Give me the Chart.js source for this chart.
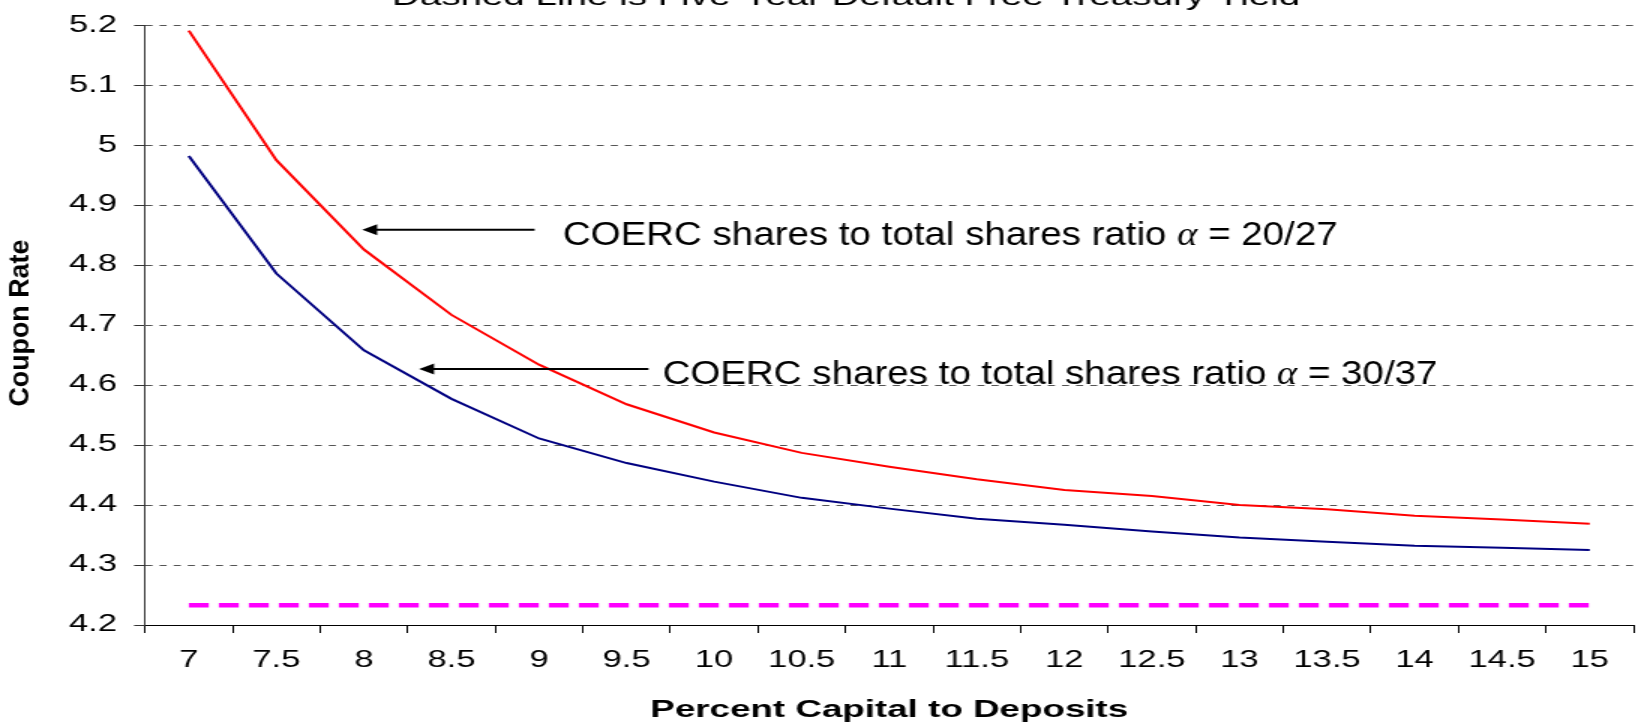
<!DOCTYPE html>
<html>
<head>
<meta charset="utf-8">
<script src="https://cdn.jsdelivr.net/npm/chart.js@4.4.0/dist/chart.umd.min.js"></script>
<style>
html, body { margin: 0; padding: 0; background: #fff; overflow: hidden; }
</style>
</head>
<body>
<canvas id="c" width="1092" height="726" style="display:block;width:1638px;height:726px;"></canvas>
<script>
// ---- data ----
const categories = ['7', '7.5', '8', '8.5', '9', '9.5', '10', '10.5', '11', '11.5', '12', '12.5', '13', '13.5', '14', '14.5', '15'];
const alpha2027 = [5.191, 4.975, 4.826, 4.717, 4.634, 4.568, 4.521, 4.487, 4.464, 4.443, 4.425, 4.415, 4.400, 4.393, 4.382, 4.376, 4.369];
const alpha3037 = [4.982, 4.786, 4.658, 4.577, 4.511, 4.470, 4.439, 4.412, 4.394, 4.377, 4.367, 4.356, 4.346, 4.339, 4.332, 4.329, 4.325];
const treasuryYield = [4.233, 4.233, 4.233, 4.233, 4.233, 4.233, 4.233, 4.233, 4.233, 4.233, 4.233, 4.233, 4.233, 4.233, 4.233, 4.233, 4.233];
const yTickValues = [4.2, 4.3, 4.4, 4.5, 4.6, 4.7, 4.8, 4.9, 5.0, 5.1, 5.2];
const chartTitle = 'Dashed Line is Five-Year Default Free Treasury Yield';
const xAxisTitle = 'Percent Capital to Deposits';
const yAxisTitle = 'Coupon Rate';
const annotationPrefix = 'COERC shares to total shares ratio ';
const annotationSymbol = '\u03B1';
const annotationRatios = ['20/27', '30/37'];

// ---- layout (not data) ----
const STRETCH = 1.5; // canvas is drawn at 1092 wide and shown at 1638 wide
const FONT = '"Liberation Sans", Arial, sans-serif';
const annotationPlacement = [
  { tipX: 1.98, tailX: 3.95, textX: 4.27, y: 4.859 },
  { tipX: 2.63, tailX: 5.25, textX: 5.41, y: 4.627 }
];

const overlay = {
  id: 'overlay',
  afterDraw(chart) {
    const ctx = chart.ctx;
    const xs = chart.scales.x, ys = chart.scales.y;
    ctx.save();
    ctx.fillStyle = '#000';
    ctx.strokeStyle = '#000';

    // chart title (partly cut off at top)
    ctx.save();
    ctx.font = '25.5px ' + FONT;
    ctx.textAlign = 'center';
    ctx.textBaseline = 'alphabetic';
    const tw = ctx.measureText(chartTitle).width;
    ctx.translate(846 / STRETCH, 5);
    ctx.scale((908 / STRETCH) / tw, 1);
    ctx.fillText(chartTitle, 0, 0);
    ctx.restore();

    // y axis title
    ctx.save();
    ctx.font = 'bold 24px ' + FONT;
    ctx.textAlign = 'center';
    ctx.textBaseline = 'middle';
    const yw = ctx.measureText(yAxisTitle).width;
    ctx.translate(21 / STRETCH, (ys.top + ys.bottom) / 2 - 2);
    ctx.rotate(-Math.PI / 2);
    ctx.scale(167 / yw, 1.15 / STRETCH);
    ctx.fillText(yAxisTitle, 0, 0);
    ctx.restore();

    // annotations
    const fMain = '33px ' + FONT;
    const fSym = 'italic 33px "Liberation Serif", serif';
    const partsFor = k => [[annotationPrefix, fMain], [annotationSymbol, fSym], [' = ' + annotationRatios[k], fMain]];
    const widthOf = parts => parts.reduce((s, [t, f]) => { ctx.font = f; return s + ctx.measureText(t).width; }, 0);
    const sx = (775 / STRETCH) / widthOf(partsFor(0));
    annotationPlacement.forEach((a, k) => {
      const yPix = ys.getPixelForValue(a.y);
      const tip = xs.getPixelForValue(a.tipX);
      const tail = xs.getPixelForValue(a.tailX);
      const tx = xs.getPixelForValue(a.textX);
      const headLen = 15 / STRETCH;
      ctx.lineWidth = 2;
      ctx.beginPath();
      ctx.moveTo(tail, yPix);
      ctx.lineTo(tip + headLen * 0.8, yPix);
      ctx.stroke();
      ctx.beginPath();
      ctx.moveTo(tip, yPix);
      ctx.lineTo(tip + headLen, yPix - 5.5);
      ctx.lineTo(tip + headLen, yPix + 5.5);
      ctx.closePath();
      ctx.fill();

      ctx.save();
      ctx.textAlign = 'left';
      ctx.textBaseline = 'alphabetic';
      ctx.translate(tx, yPix + 14.8);
      ctx.scale(sx, 1);
      let cx = 0;
      partsFor(k).forEach(([t, f]) => {
        ctx.font = f;
        ctx.fillText(t, cx, 0);
        cx += ctx.measureText(t).width;
      });
      ctx.restore();
    });
    ctx.restore();
  }
};

Chart.defaults.font.family = FONT;

new Chart(document.getElementById('c'), {
  type: 'line',
  data: {
    labels: categories,
    datasets: [
      { label: 'alpha = 20/27', data: alpha2027, borderColor: '#FF0000', borderWidth: 2, pointRadius: 0, tension: 0, fill: false },
      { label: 'alpha = 30/37', data: alpha3037, borderColor: '#000080', borderWidth: 2, pointRadius: 0, tension: 0, fill: false },
      { label: 'Treasury yield', data: treasuryYield, borderColor: '#FF00FF', borderWidth: 4.5, borderDash: [13.3, 6.7], pointRadius: 0, tension: 0, fill: false }
    ]
  },
  options: {
    responsive: false,
    devicePixelRatio: 1,
    animation: false,
    events: [],
    layout: { padding: { top: 22.3, right: 3, left: 0, bottom: 0 } },
    plugins: {
      legend: { display: false },
      tooltip: { enabled: false },
      title: { display: false }
    },
    scales: {
      x: {
        type: 'category',
        offset: true,
        grid: { display: true, drawOnChartArea: false, drawTicks: true, tickLength: 8, tickColor: '#000', tickWidth: 1, offset: true },
        border: { display: true, color: '#000', width: 1 },
        ticks: { color: '#000', font: { size: 23 }, padding: 14, autoSkip: false, maxRotation: 0, minRotation: 0 },
        title: { display: true, text: xAxisTitle, color: '#000', font: { size: 24.5, weight: 'bold' }, padding: { top: 0, bottom: 1 } },
        afterFit: s => { s.height = 101; }
      },
      y: {
        min: 4.2,
        max: 5.2,
        afterBuildTicks: s => { s.ticks = yTickValues.map(v => ({ value: v })); },
        grid: { color: '#555', lineWidth: 1, drawTicks: true, tickLength: 7.3, tickColor: '#333', tickWidth: 1 },
        border: { display: true, color: '#333', width: 1, dash: [4.7, 4.7] },
        ticks: { color: '#000', font: { size: 23 }, padding: 11.4, callback: v => String(+Number(v).toFixed(1)) },
        afterFit: s => { s.width = 96.7; }
      }
    }
  },
  plugins: [overlay]
});
</script>
</body>
</html>
